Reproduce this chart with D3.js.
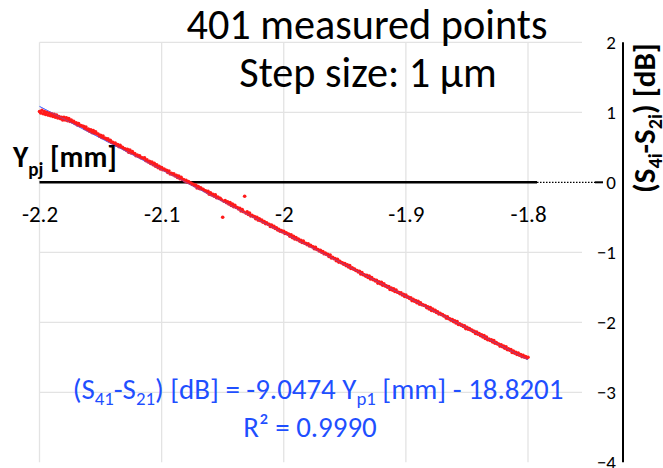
<!DOCTYPE html>
<html><head><meta charset="utf-8">
<script src="https://cdn.jsdelivr.net/npm/d3@7"></script>
<style>
html,body{margin:0;padding:0;background:#fff;}
svg{display:block;}
text{font-family:Carlito,Calibri,Lato,"Open Sans",sans-serif;}
</style></head>
<body><svg id="c" width="663" height="468"></svg>
<script>
// ---------------- data ----------------
const xStart = -2.2;          // first position [mm]
const xStep = 0.001;          // 1 µm step
// measured (S41-S21) [dB], 401 points
const yValues = [
 1.01, 0.99, 1.03, 0.98, 1.01, 0.97, 1.00, 0.96, 0.99, 0.95,
 0.98, 0.94, 0.97, 0.93, 0.96, 0.92, 0.94, 0.91, 0.93, 0.89,
 0.93, 0.89, 0.92, 0.88, 0.91, 0.87, 0.89, 0.86, 0.87, 0.84,
 0.85, 0.82, 0.84, 0.81, 0.81, 0.80, 0.80, 0.77, 0.79, 0.75,
 0.76, 0.73, 0.75, 0.71, 0.74, 0.70, 0.72, 0.69, 0.69, 0.66,
 0.67, 0.64, 0.66, 0.63, 0.63, 0.61, 0.62, 0.59, 0.60, 0.57,
 0.57, 0.55, 0.56, 0.53, 0.54, 0.51, 0.53, 0.50, 0.50, 0.48,
 0.48, 0.46, 0.47, 0.43, 0.46, 0.42, 0.44, 0.41, 0.41, 0.38,
 0.39, 0.37, 0.38, 0.35, 0.35, 0.34, 0.35, 0.31, 0.32, 0.29,
 0.30, 0.27, 0.29, 0.25, 0.27, 0.23, 0.25, 0.21, 0.23, 0.19,
 0.21, 0.18, 0.19, 0.17, 0.17, 0.14, 0.16, 0.12, 0.13, 0.11,
 0.12, 0.09, 0.10, 0.07, 0.09, 0.05, 0.07, 0.04, 0.04, 0.02,
 0.03, 0.00, 0.01, -0.01, -0.01, -0.03, -0.03, -0.05, -0.04, -0.08,
 -0.06, -0.09, -0.08, -0.10, -0.10, -0.12, -0.12, -0.14, -0.13, -0.17,
 -0.15, -0.18, -0.17, -0.20, -0.18, -0.22, -0.21, -0.23, -0.23, -0.25,
 -0.50, -0.27, -0.26, -0.29, -0.28, -0.31, -0.29, -0.33, -0.31, -0.35,
 -0.33, -0.36, -0.36, -0.38, -0.37, -0.41, -0.39, -0.42, -0.20, -0.44,
 -0.42, -0.46, -0.44, -0.48, -0.47, -0.49, -0.49, -0.52, -0.50, -0.54,
 -0.52, -0.55, -0.54, -0.57, -0.56, -0.59, -0.58, -0.60, -0.60, -0.63,
 -0.61, -0.64, -0.63, -0.66, -0.65, -0.68, -0.67, -0.70, -0.69, -0.71,
 -0.70, -0.73, -0.72, -0.74, -0.74, -0.77, -0.75, -0.79, -0.77, -0.81,
 -0.79, -0.82, -0.81, -0.84, -0.83, -0.86, -0.84, -0.87, -0.87, -0.89,
 -0.88, -0.91, -0.90, -0.92, -0.92, -0.95, -0.93, -0.96, -0.96, -0.98,
 -0.97, -1.00, -0.99, -1.02, -1.01, -1.03, -1.03, -1.06, -1.04, -1.08,
 -1.07, -1.09, -1.09, -1.12, -1.10, -1.14, -1.13, -1.15, -1.15, -1.17,
 -1.16, -1.19, -1.18, -1.21, -1.19, -1.23, -1.22, -1.24, -1.24, -1.26,
 -1.26, -1.28, -1.27, -1.31, -1.29, -1.32, -1.32, -1.34, -1.33, -1.36,
 -1.34, -1.38, -1.36, -1.39, -1.39, -1.41, -1.40, -1.44, -1.42, -1.45,
 -1.43, -1.47, -1.45, -1.48, -1.48, -1.50, -1.49, -1.53, -1.51, -1.54,
 -1.52, -1.56, -1.54, -1.57, -1.57, -1.59, -1.58, -1.61, -1.60, -1.63,
 -1.61, -1.64, -1.64, -1.66, -1.65, -1.69, -1.67, -1.70, -1.69, -1.72,
 -1.70, -1.74, -1.72, -1.75, -1.75, -1.76, -1.76, -1.79, -1.78, -1.81,
 -1.79, -1.83, -1.81, -1.84, -1.83, -1.86, -1.85, -1.88, -1.87, -1.89,
 -1.89, -1.91, -1.91, -1.94, -1.92, -1.95, -1.95, -1.97, -1.96, -1.99,
 -1.98, -2.01, -1.99, -2.03, -2.02, -2.04, -2.04, -2.06, -2.05, -2.09,
 -2.07, -2.10, -2.09, -2.11, -2.11, -2.13, -2.13, -2.16, -2.14, -2.17,
 -2.16, -2.19, -2.18, -2.21, -2.19, -2.23, -2.21, -2.25, -2.24, -2.26,
 -2.25, -2.28, -2.26, -2.30, -2.29, -2.31, -2.31, -2.34, -2.32, -2.35,
 -2.34, -2.37, -2.35, -2.39, -2.38, -2.40, -2.39, -2.43, -2.41, -2.44,
 -2.43, -2.46, -2.44, -2.47, -2.46, -2.49, -2.47, -2.50, -2.49, -2.51,
 -2.50
];
const xTicks = [-2.2, -2.1, -2, -1.9, -1.8];
const xTickLabels = ["-2.2", "-2.1", "-2", "-1.9", "-1.8"];
const yTicks = [2, 1, 0, -1, -2, -3, -4];
const fitSlope = -9.0474;
const fitIntercept = -18.8201;
const titleLines = ["401 measured points", "Step size: 1 \u00b5m"];

// ---------------- layout ----------------
const svg = d3.select("#c");
const x = d3.scaleLinear().domain([-2.2, -1.8]).range([39.5, 528]);
const y = d3.scaleLinear().domain([-4, 2]).range([462.3, 42.3]);
const gridRight = 582;
const axisX = 623;

function fitWidth(sel, target) {
  const w = sel.node().getComputedTextLength();
  const fs = parseFloat(sel.attr("font-size"));
  const nfs = fs * target / w;
  sel.attr("font-size", nfs);
  return nfs;
}

// gridlines
const gridColor = "#e3e3e3";
svg.append("g").selectAll("line").data(xTicks).join("line")
  .attr("x1", d => x(d)).attr("x2", d => x(d))
  .attr("y1", y(2)).attr("y2", y(-4))
  .attr("stroke", gridColor).attr("stroke-width", 1.3);
svg.append("g").selectAll("line").data(yTicks.filter(d => d !== 0 && d !== -4)).join("line")
  .attr("x1", x(-2.2)).attr("x2", gridRight)
  .attr("y1", d => y(d)).attr("y2", d => y(d))
  .attr("stroke", gridColor).attr("stroke-width", 1.3);

// x axis (horizontal line at 0) and labels
svg.append("line").attr("x1", x(-2.2)).attr("x2", x(-1.8) + 9)
  .attr("y1", y(0)).attr("y2", y(0)).attr("stroke", "#000").attr("stroke-width", 2.5);
svg.append("line").attr("x1", x(-1.8) + 9).attr("x2", 595)
  .attr("y1", y(0)).attr("y2", y(0)).attr("stroke", "#000").attr("stroke-width", 1.2)
  .attr("stroke-dasharray", "1.5,1.5");
svg.append("line").attr("x1", 595).attr("x2", 603)
  .attr("y1", y(0)).attr("y2", y(0)).attr("stroke", "#000").attr("stroke-width", 2);

const xAxis = d3.axisBottom(x).tickValues(xTicks).tickFormat((d, i) => xTickLabels[i]).tickSize(0);
const gx = svg.append("g").attr("transform", `translate(0,${y(0)})`).call(xAxis);
gx.select(".domain").remove();
gx.selectAll("text").attr("y", 40).attr("dy", 0).attr("fill", "#000")
  .attr("font-size", 23).attr("font-family", "Carlito,Calibri,Lato,sans-serif");

// right y axis
const yAxis = d3.axisLeft(y).tickValues(yTicks).tickFormat(d3.format("d")).tickSize(0).tickPadding(7);
const gy = svg.append("g").attr("transform", `translate(${axisX},0)`).call(yAxis);
gy.select(".domain").attr("stroke", "#000").attr("stroke-width", 2).attr("d", `M0,${y(2)}V${y(-4)}`);
gy.selectAll("text").attr("fill", "#000").attr("font-size", 19)
  .attr("font-family", "Carlito,Calibri,Lato,sans-serif");

// trendline under points
const line = () => svg.append("line")
  .attr("x1", x(-2.2)).attr("y1", y(fitSlope * -2.2 + fitIntercept))
  .attr("x2", x(-1.8)).attr("y2", y(fitSlope * -1.8 + fitIntercept));
line().attr("stroke", "#5470ff").attr("stroke-width", 1);

// points
const pts = yValues.map((v, i) => ({ xv: xStart + i * xStep, yv: v }));
svg.append("g").selectAll("circle").data(pts).join("circle")
  .attr("cx", d => x(d.xv)).attr("cy", d => y(d.yv)).attr("r", 1.8)
  .attr("fill", "#ff1a1a");
// trendline peeking through the dots
line().attr("stroke", "#4a64ff").attr("stroke-width", 0.8).attr("opacity", 0.55);

// title
const t1 = svg.append("text").attr("x", 367).attr("y", 39).attr("text-anchor", "middle")
  .attr("font-size", 40).attr("fill", "#000").text(titleLines[0]);
const tfs = fitWidth(t1, 361);
svg.append("text").attr("x", 368).attr("y", 87).attr("text-anchor", "middle")
  .attr("font-size", tfs).attr("fill", "#000").text(titleLines[1]);

// x-axis title Ypj [mm]
const xt = svg.append("text").attr("x", 13).attr("y", 167).attr("font-size", 30)
  .attr("font-weight", "bold").attr("fill", "#000");
xt.append("tspan").text("Y");
xt.append("tspan").attr("font-size", "0.65em").attr("dy", "0.45em").text("pj");
xt.append("tspan").attr("dy", "-0.2925em").text(" [mm]");
fitWidth(xt, 104);

// y-axis title
const yt = svg.append("text").attr("transform", "translate(655,118) rotate(-90)")
  .attr("text-anchor", "middle").attr("font-size", 27).attr("font-weight", "bold").attr("fill", "#000");
yt.append("tspan").text("(S");
yt.append("tspan").attr("font-size", "0.65em").attr("dy", "0.35em").text("4i");
yt.append("tspan").attr("dy", "-0.2275em").text("-S");
yt.append("tspan").attr("font-size", "0.65em").attr("dy", "0.35em").text("2i");
yt.append("tspan").attr("dy", "-0.2275em").text(") [dB]");
fitWidth(yt, 150);

// equation
const blue = "#1f4fff";
const eq = svg.append("text").attr("x", 318).attr("y", 399).attr("text-anchor", "middle")
  .attr("font-size", 26).attr("fill", blue);
eq.append("tspan").text("(S");
eq.append("tspan").attr("font-size", "0.65em").attr("dy", "0.3em").text("41");
eq.append("tspan").attr("dy", "-0.195em").text("-S");
eq.append("tspan").attr("font-size", "0.65em").attr("dy", "0.3em").text("21");
eq.append("tspan").attr("dy", "-0.195em").text(") [dB] = " + fitSlope.toFixed(4) + " Y");
eq.append("tspan").attr("font-size", "0.65em").attr("dy", "0.3em").text("p1");
eq.append("tspan").attr("dy", "-0.195em").text(" [mm] - " + Math.abs(fitIntercept).toFixed(4));
const efs = fitWidth(eq, 491);
svg.append("text").attr("x", 310).attr("y", 437).attr("text-anchor", "middle")
  .attr("font-size", efs).attr("fill", blue).text("R\u00b2 = 0.9990");
</script></body></html>
